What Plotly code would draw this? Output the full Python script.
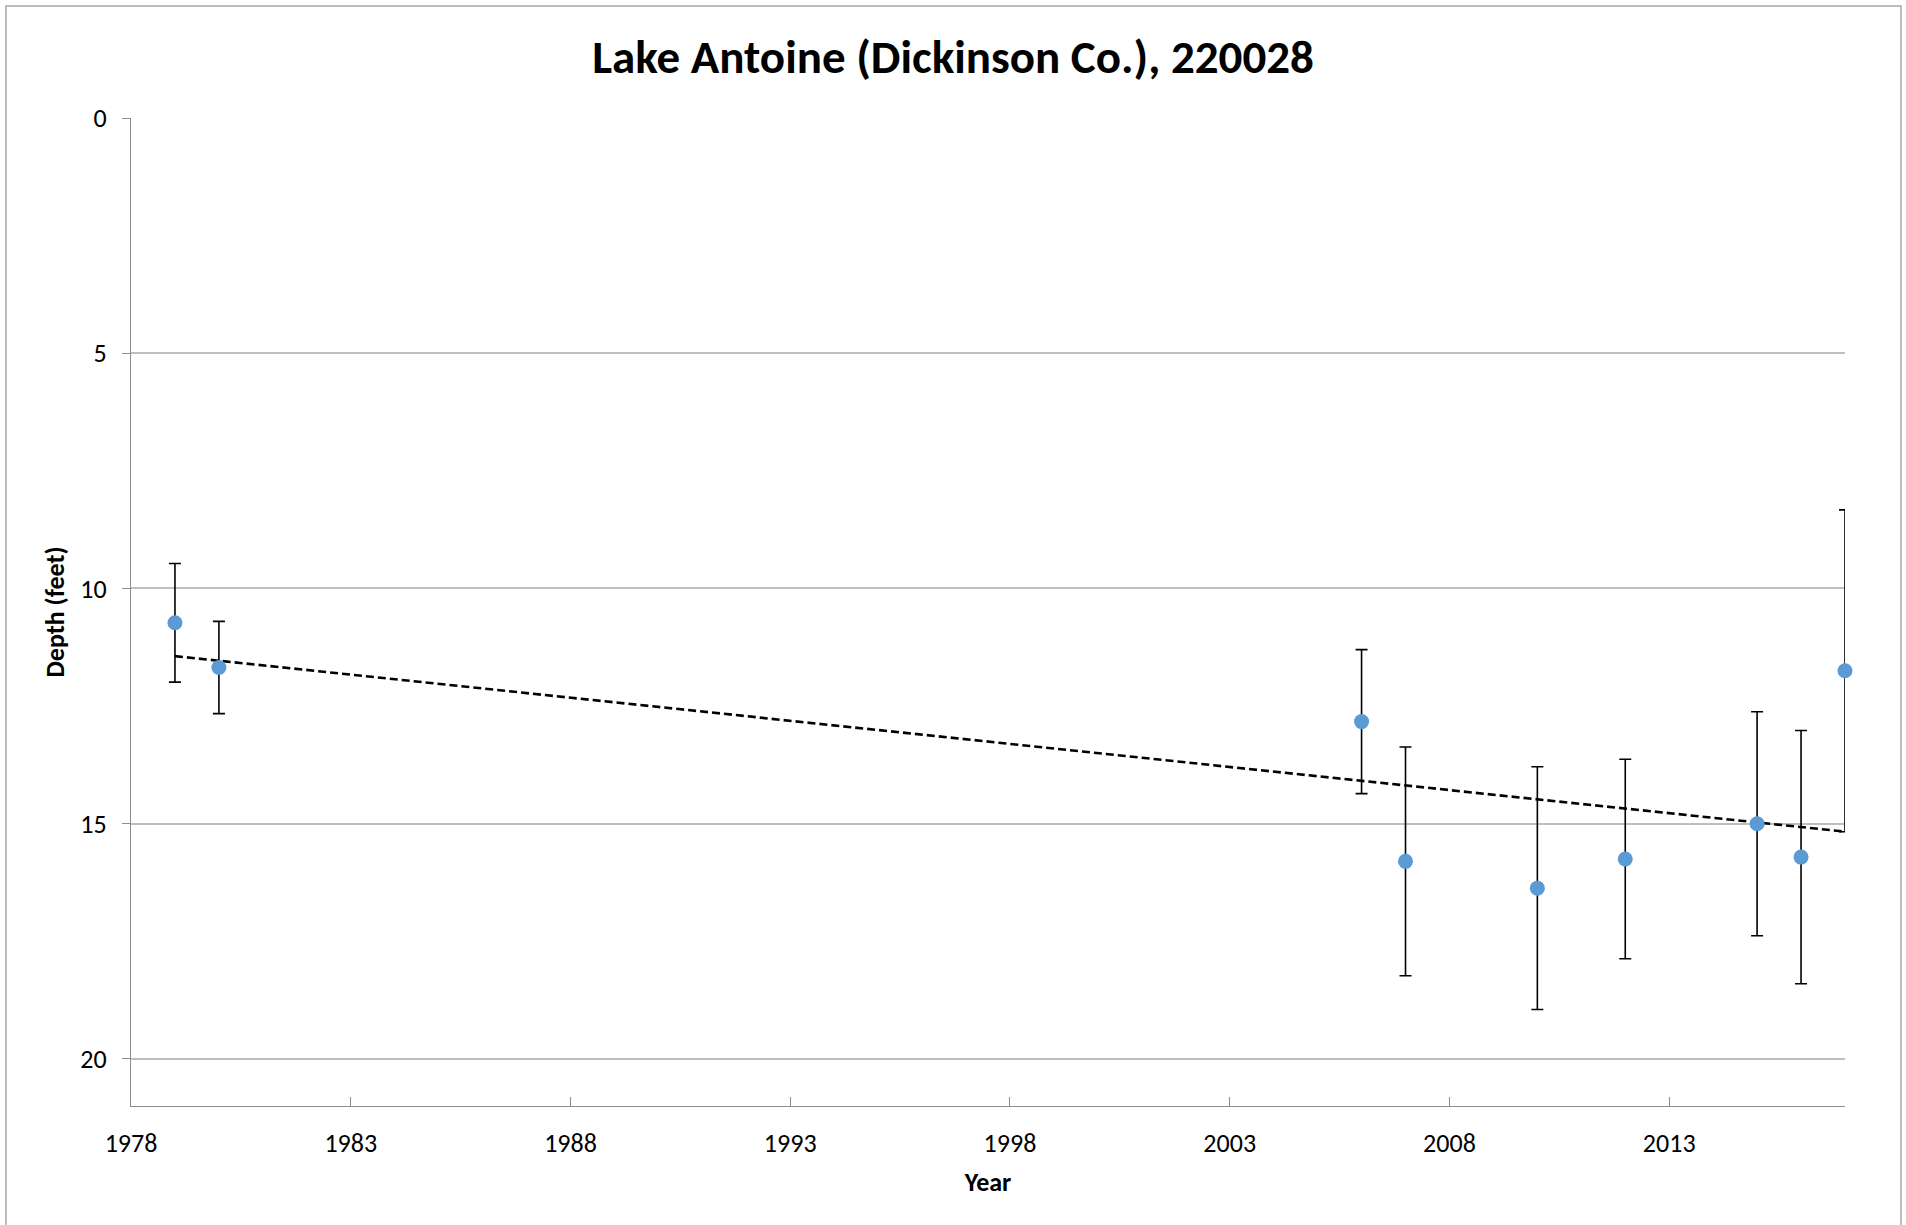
import numpy as np
import plotly.graph_objects as go

# ---- data ----
years = [1979, 1980, 2006, 2007, 2010, 2012, 2015, 2016, 2017]
depth = [10.73, 11.68, 12.83, 15.80, 16.37, 15.75, 15.00, 15.71, 11.75]
depth_err = [1.26, 0.98, 1.53, 2.43, 2.58, 2.12, 2.38, 2.69, 3.42]

title_text = "Lake Antoine (Dickinson Co.), 220028"
x_title = "Year"
y_title = "Depth (feet)"

# linear trendline (least squares, like Excel)
slope, intercept = np.polyfit(years, depth, 1)
trend_x = [min(years), max(years)]
trend_y = [slope * x + intercept for x in trend_x]

FONT = "Carlito, Calibri, Lato, sans-serif"

W, H = 1906, 1225
L, R, T, B = 131, 61, 118, 119
pw, ph = W - L - R, H - T - B

fig = go.Figure()

fig.add_trace(go.Scatter(
    x=trend_x, y=trend_y, mode="lines",
    line=dict(color="black", width=2.6, dash="8px,4px"),
    hoverinfo="skip", showlegend=False, cliponaxis=False,
))

fig.add_trace(go.Scatter(
    x=years, y=depth, mode="markers",
    marker=dict(color="#5B9BD5", size=15, line=dict(width=0)),
    error_y=dict(type="data", array=depth_err, visible=True,
                 color="black", thickness=1.6, width=6),
    showlegend=False, cliponaxis=False,
))

# outer chart-area border
def px_x(X):
    return (X - L) / pw

def px_y(Y):
    return (H - B - Y) / ph

fig.add_shape(type="rect", xref="paper", yref="paper",
              x0=px_x(6), x1=px_x(1901), y0=px_y(1240), y1=px_y(6),
              line=dict(color="#A6A6A6", width=1.5), fillcolor="rgba(0,0,0,0)",
              layer="below")

fig.update_layout(
    width=W, height=H,
    margin=dict(l=L, r=R, t=T, b=B, pad=0),
    paper_bgcolor="white", plot_bgcolor="white",
    font=dict(family=FONT, color="black", size=26),
    title=dict(text="<b>" + title_text + "</b>", x=0.5, xref="container",
               y=1 - 57 / H, yref="container", yanchor="middle", xanchor="center",
               font=dict(family=FONT, size=47, color="black")),
    showlegend=False,
)

fig.update_xaxes(
    range=[1978, 2017], tick0=1978, dtick=5, tickmode="linear",
    showgrid=False, zeroline=False,
    showline=True, linecolor="#8C8C8C", linewidth=1.3,
    ticks="inside", ticklen=9, tickcolor="#8C8C8C", tickwidth=1.3,
    ticklabelstandoff=14,
    tickfont=dict(family=FONT, size=26, color="black"),
    title=dict(text="<b>" + x_title + "</b>", standoff=14,
               font=dict(family=FONT, size=26, color="black")),
)

fig.update_yaxes(
    range=[21, 0], tick0=0, dtick=5, tickmode="linear",
    showgrid=True, gridcolor="#BFBFBF", gridwidth=2.4, zeroline=False,
    showline=True, linecolor="#8C8C8C", linewidth=1.3,
    ticks="outside", ticklen=8, tickcolor="#8C8C8C", tickwidth=1.3,
    ticklabelstandoff=10,
    tickfont=dict(family=FONT, size=26, color="black"),
    title=dict(text="<b>" + y_title + "</b>", standoff=8,
               font=dict(family=FONT, size=26, color="black")),
)

fig.write_html(
    "out.html",
    config={"displayModeBar": False},
    post_script="document.body.style.margin='0';document.body.style.overflow='hidden';",
)
